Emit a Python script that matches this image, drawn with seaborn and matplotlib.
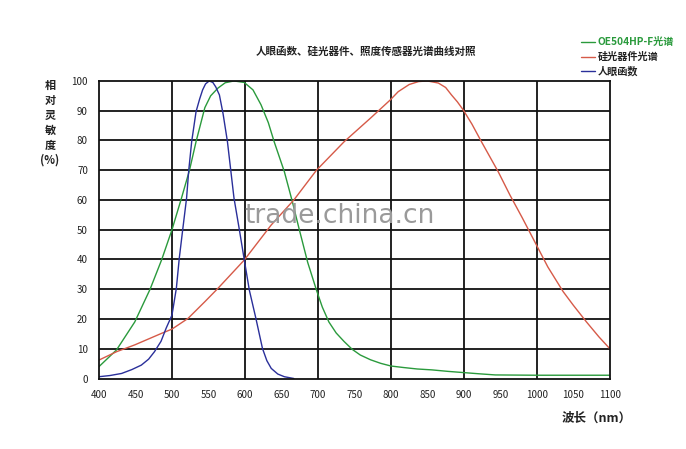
"""Spectral response curves: human eye, silicon photodiode, OE504HP-F sensor."""

import matplotlib.pyplot as plt
import pandas as pd
import seaborn as sns

plt.switch_backend("Agg")

# OE504HP-F spectrum (green)
green_nm = [400, 424, 449, 470, 486, 500, 513, 524, 533, 545, 553, 563, 573,
            585, 599, 611, 622, 632, 640, 654, 665, 674, 686, 698, 706, 715,
            725, 736, 747, 758, 772, 786, 800, 817, 836, 856, 878, 899, 920,
            943, 1000, 1050, 1100]
green_val = [4, 9.6, 19, 30, 40, 50, 60.6, 70, 79.6, 91, 95, 97.6, 99.4,
             100, 99.5, 97, 92, 86, 79.6, 69.5, 59.4, 50.5, 39, 29.7, 24, 19,
             15.3, 12.4, 9.8, 7.9, 6.3, 5.1, 4.2, 3.7, 3.2, 2.9, 2.4, 2, 1.6,
             1.2, 1.1, 1.1, 1.1]

# silicon photodiode spectrum (red)
red_nm = [400, 424, 449, 486, 500, 522, 545, 563, 599, 636, 667, 698, 736,
          772, 799, 810, 825, 838, 850, 865, 875, 883, 891, 899, 911, 924,
          947, 963, 980, 997, 1015, 1036, 1050, 1068, 1085, 1100]
red_val = [6.2, 9, 11.3, 15.2, 16.6, 20.2, 25.8, 30.3, 39.8, 51.6, 60, 70,
           79.6, 87.5, 93.6, 96.4, 98.8, 99.8, 100, 99.3, 97.8, 95.3, 93,
           90.3, 85.5, 79.6, 69.5, 61.7, 54, 46, 37.5, 29.2, 24.6, 19, 14, 10]

# human eye function (blue)
blue_nm = [400, 415, 431, 445, 458, 468, 476, 485, 492, 500, 506, 510, 515,
           520, 523, 527, 533, 538, 542, 546, 551, 556, 560, 565, 570, 576,
           585, 592, 599, 606, 615, 624, 630, 636, 645, 654, 667]
blue_val = [0.6, 1, 1.7, 3, 4.5, 6.5, 9, 12.5, 16.9, 21.3, 30.3, 40.4, 50.6,
            60.6, 70, 79.6, 89.7, 94, 97, 99, 100, 99.5, 98, 95.3, 89, 79.6,
            60.6, 50.5, 40, 29.7, 20.2, 10.1, 6, 3.4, 1.5, 0.6, 0]

LABELS = ["OE504HP-F光谱", "硅光器件光谱", "人眼函数"]
COLORS = ["#2a9a3c", "#d65a48", "#2a2f9a"]
X_TICKS = list(range(400, 1101, 50))
Y_TICKS = list(range(0, 101, 10))

CJK = ["Noto Sans CJK SC", "DejaVu Sans"]


def main() -> None:
    sns.set_theme(style="white")
    plt.rcParams["font.family"] = CJK

    fig = plt.figure(figsize=(6.86, 4.49), dpi=100)
    ax = fig.add_axes([0.1443, 0.157, 0.7447, 0.6627])

    series = [(green_nm, green_val), (red_nm, red_val), (blue_nm, blue_val)]
    for (xs, ys), label, color in zip(series, LABELS, COLORS):
        df = pd.DataFrame({"nm": xs, "val": ys})
        sns.lineplot(data=df, x="nm", y="val", ax=ax, color=color,
                     linewidth=1.0, label=label)

    ax.set_xlim(400, 1100)
    ax.set_ylim(0, 100)
    ax.set_xticks(X_TICKS)
    ax.set_xticklabels([str(t) for t in X_TICKS], fontsize=7, color="#222222")
    ax.set_yticks(Y_TICKS)
    ax.set_yticklabels([str(t) for t in Y_TICKS], fontsize=7, color="#222222")
    ax.tick_params(axis="both", length=0, pad=8)
    ax.set_xlabel("")
    ax.set_ylabel("")

    # grid only every 100 nm vertically and every 10 horizontally
    for xv in range(500, 1100, 100):
        ax.axvline(xv, color="#111111", linewidth=1.3, zorder=0)
    for yv in range(10, 100, 10):
        ax.axhline(yv, color="#111111", linewidth=1.3, zorder=0)
    for spine in ax.spines.values():
        spine.set_color("#111111")
        spine.set_linewidth(1.3)

    fig.text(0.073, 0.825, "相\n对\n灵\n敏\n度\n(%)", fontsize=8,
             fontweight="bold", ha="center", va="top", linespacing=1.2,
             color="#222222")
    fig.text(0.87, 0.068, "波长（nm）", fontsize=9, fontweight="bold",
             ha="center", va="center", color="#222222")
    fig.text(0.534, 0.884, "人眼函数、硅光器件、照度传感器光谱曲线对照", fontsize=7.6,
             fontweight="bold", ha="center", va="center", color="#222222")

    # watermark
    fig.text(0.495, 0.52, "trade.china.cn", fontsize=19, color="#9a9a9a",
             ha="center", va="center", family="DejaVu Sans")

    leg = ax.legend(loc="upper left", bbox_to_anchor=(0.935, 1.16),
                    frameon=False, fontsize=7.3, handlelength=1.4,
                    handletextpad=0.3, labelspacing=0.45, borderaxespad=0)
    for text, color in zip(leg.get_texts(), ["#2a9a3c", "#222222", "#222222"]):
        text.set_color(color)
        text.set_fontweight("bold")

    fig.savefig("out.png", dpi=100)
    plt.close(fig)


if __name__ == "__main__":
    main()
